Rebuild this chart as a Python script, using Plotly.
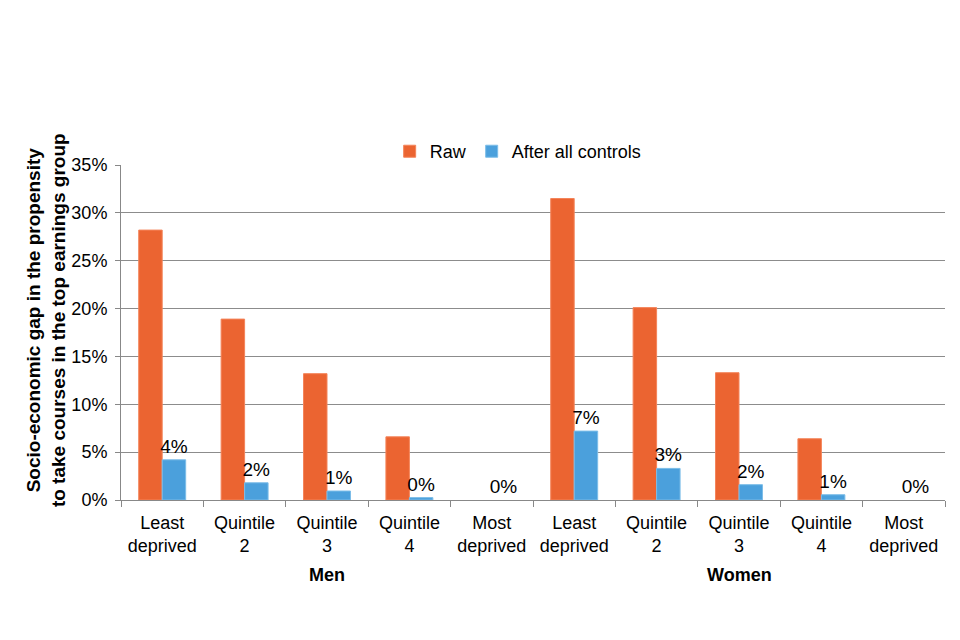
import plotly.graph_objects as go

groups = ["Men", "Women"]
quintiles = ["Least<br>deprived", "Quintile<br>2", "Quintile<br>3", "Quintile<br>4", "Most<br>deprived"]
raw = [28.2, 18.9, 13.2, 6.6, 0.0, 31.5, 20.1, 13.3, 6.4, 0.0]
after_controls = [4.2, 1.8, 0.94, 0.25, 0.0, 7.2, 3.3, 1.6, 0.55, 0.0]
y_ticks = [0, 5, 10, 15, 20, 25, 30, 35]
y_title = "Socio-economic gap in the propensity<br>to take courses in the top earnings group"

labels = [q for g in groups for q in quintiles]
xs = list(range(len(labels)))

FONT = "Liberation Sans, Arial, sans-serif"
ORANGE = "#EB6431"
BLUE = "#4BA0DC"

def edge_widths(vals):
    return [1 if v > 0 else 0 for v in vals]

fig = go.Figure()
fig.add_bar(x=xs, y=raw, name="Raw",
            marker=dict(color=ORANGE, line=dict(color="#F4845A", width=edge_widths(raw))))
fig.add_bar(x=xs, y=after_controls, name="After all controls",
            marker=dict(color=BLUE, line=dict(color="#7CBDE8", width=edge_widths(after_controls))),
            texttemplate="%{y:.0f}%", textposition="outside", cliponaxis=False,
            constraintext="none",
            textfont=dict(size=19, color="#000000", family=FONT))

for i, g in enumerate(groups):
    n = len(quintiles)
    fig.add_annotation(x=i * n + (n - 1) / 2, y=-0.224, xref="x", yref="paper",
                       text="<b>%s</b>" % g, showarrow=False,
                       font=dict(size=18, color="#000000", family=FONT), yanchor="middle")

fig.add_annotation(x=-0.091, y=0.537, xref="paper", yref="paper", textangle=-90,
                   text="<b>%s</b>" % y_title, showarrow=False,
                   xanchor="center", yanchor="middle",
                   font=dict(size=19, color="#000000", family=FONT))

fig.update_layout(
    width=960, height=640,
    margin=dict(l=113, r=23, t=157, b=148),
    paper_bgcolor="white", plot_bgcolor="white",
    barmode="group", bargap=0.43, bargroupgap=0,
    font=dict(family=FONT, size=18, color="#000000"),
    showlegend=True,
    legend=dict(orientation="h", x=0.482, xanchor="center", y=0.985, yanchor="bottom",
                font=dict(size=18), itemwidth=30, traceorder="normal"),
    xaxis=dict(range=[-0.5, len(labels) - 0.5], tickmode="array", tickvals=xs, ticktext=labels,
               ticks="", showgrid=False, showline=True, linecolor="#888888", linewidth=1,
               tickfont=dict(size=18, family=FONT), ticklabelstandoff=6,
               minor=dict(tick0=-0.5, dtick=1, ticks="outside", ticklen=6, tickcolor="#888888", showgrid=False)),
    yaxis=dict(range=[0, 35], tickmode="array", tickvals=y_ticks,
               ticktext=["%d%%" % v for v in y_ticks],
               showgrid=True, gridcolor="#8C8C8C", gridwidth=1,
               showline=True, linecolor="#888888", linewidth=1,
               ticks="outside", ticklen=5, tickcolor="#888888", ticklabelstandoff=4,
               tickfont=dict(size=18, family=FONT), zeroline=False),
)

fig.write_html("out.html")
